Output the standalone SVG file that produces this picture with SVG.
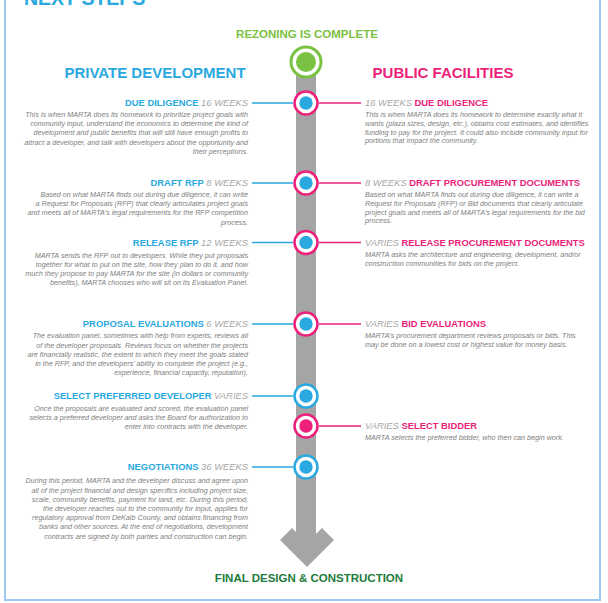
<svg xmlns="http://www.w3.org/2000/svg" width="608" height="603" viewBox="0 0 608 603">
<style>
text{font-family:"Liberation Sans",Arial,sans-serif}
.title{font-size:19.5px;font-weight:bold;fill:#29a9e0}
.col{font-size:15px;font-weight:bold}
.blue{fill:#29a9e0}
.pink{fill:#ec1f7a}
.hd{font-size:9.4px}
.hb{font-weight:bold}
.hw{font-style:italic;fill:#a6a6a6}
.body{font-size:7.2px;font-style:italic;fill:#808080}
.l{text-anchor:end}
.ring-p{fill:#fff;stroke:#ec1f7a;stroke-width:2.5}
.ring-b{fill:#fff;stroke:#29a9e0;stroke-width:2.5}
.dot-b{fill:#29a9e0}
.dot-p{fill:#ec1f7a}
.cl{stroke:#29a9e0;stroke-width:1.6}
.cr{stroke:#ec1f7a;stroke-width:1.6}
</style>
<rect x="5" y="-20" width="595" height="620" fill="#fff" stroke="#9cc7f2" stroke-width="2"/>
<text class="title" x="24" y="4.5">NEXT STEPS</text>
<text x="307" y="38" text-anchor="middle" style="font-size:11.5px;font-weight:bold;fill:#7bc143">REZONING IS COMPLETE</text>
<text class="col blue" x="155" y="77.5" text-anchor="middle">PRIVATE DEVELOPMENT</text>
<text class="col pink" x="443" y="77.5" text-anchor="middle">PUBLIC FACILITIES</text>

<g id="spine">
<rect x="296" y="62" width="20" height="490" fill="#a5a5a5"/>
<polygon points="307,567 280,540 292,528 307,543 322,528 334,540" fill="#a5a5a5"/>
</g>

<g id="connectors">
<line class="cl" x1="252" y1="103" x2="293" y2="103"/>
<line class="cr" x1="319" y1="103" x2="361" y2="103"/>
<line class="cl" x1="252" y1="183" x2="293" y2="183"/>
<line class="cr" x1="319" y1="183" x2="361" y2="183"/>
<line class="cl" x1="252" y1="242.5" x2="293" y2="242.5"/>
<line class="cr" x1="319" y1="242.5" x2="361" y2="242.5"/>
<line class="cl" x1="252" y1="324" x2="293" y2="324"/>
<line class="cr" x1="319" y1="324" x2="361" y2="324"/>
<line class="cl" x1="252" y1="396" x2="293" y2="396"/>
<line class="cr" x1="319" y1="426" x2="361" y2="426"/>
<line class="cl" x1="252" y1="467" x2="293" y2="467"/>
</g>

<g id="start">
<circle cx="306" cy="62" r="15" fill="#fff" stroke="#7bc143" stroke-width="3"/>
<circle cx="306" cy="62" r="10" fill="#7bc143"/>
</g>
<g id="node-due-diligence">
<circle class="ring-p" cx="306" cy="103" r="11.5"/><circle class="dot-b" cx="306" cy="103" r="6.7"/>
</g>
<g id="node-draft">
<circle class="ring-p" cx="306" cy="183" r="11.5"/><circle class="dot-b" cx="306" cy="183" r="6.7"/>
</g>
<g id="node-release">
<circle class="ring-p" cx="306" cy="242.5" r="11.5"/><circle class="dot-b" cx="306" cy="242.5" r="6.7"/>
</g>
<g id="node-evaluations">
<circle class="ring-p" cx="306" cy="324" r="11.5"/><circle class="dot-b" cx="306" cy="324" r="6.7"/>
</g>
<g id="node-select-developer">
<circle class="ring-b" cx="306" cy="396" r="11.5"/><circle class="dot-b" cx="306" cy="396" r="6.7"/>
</g>
<g id="node-select-bidder">
<circle class="ring-p" cx="306" cy="426" r="11.5"/><circle class="dot-p" cx="306" cy="426" r="6.7"/>
</g>
<g id="node-negotiations">
<circle class="ring-b" cx="306" cy="467" r="11.5"/><circle class="dot-b" cx="306" cy="467" r="6.7"/>
</g>

<g id="left-due-diligence">
<text class="hd l" x="248" y="106.4"><tspan class="hb blue">DUE DILIGENCE</tspan><tspan class="hw"> 16 WEEKS</tspan></text>
<text class="body l" x="248" y="117"><tspan x="248">This is when MARTA does its homework to prioritize project goals with</tspan><tspan x="248" dy="9.2">community input, understand the economics to determine the kind of</tspan><tspan x="248" dy="9.2">development and public benefits that will still have enough profits to</tspan><tspan x="248" dy="9.2">attract a developer, and talk with developers about the opportunity and</tspan><tspan x="248" dy="9.2">their perceptions.</tspan></text>
</g>
<g id="left-draft-rfp">
<text class="hd l" x="248" y="186.4"><tspan class="hb blue">DRAFT RFP</tspan><tspan class="hw"> 8 WEEKS</tspan></text>
<text class="body l" x="248" y="197"><tspan x="248">Based on what MARTA finds out during due diligence, it can write</tspan><tspan x="248" dy="9.2">a Request for Proposals (RFP) that clearly articulates project goals</tspan><tspan x="248" dy="9.2">and meets all of MARTA’s legal requirements for the RFP competition</tspan><tspan x="248" dy="9.2">process.</tspan></text>
</g>
<g id="left-release-rfp">
<text class="hd l" x="248" y="245.9"><tspan class="hb blue">RELEASE RFP</tspan><tspan class="hw"> 12 WEEKS</tspan></text>
<text class="body l" x="248" y="257.5"><tspan x="248">MARTA sends the RFP out to developers.  While they put proposals</tspan><tspan x="248" dy="9.2">together for what to put on the site, how they plan to do it, and how</tspan><tspan x="248" dy="9.2">much they propose to pay MARTA for the site (in dollars or community</tspan><tspan x="248" dy="9.2">benefits), MARTA chooses who will sit on its Evaluation Panel.</tspan></text>
</g>
<g id="left-proposal-evaluations">
<text class="hd l" x="248" y="327.4"><tspan class="hb blue">PROPOSAL EVALUATIONS</tspan><tspan class="hw"> 6 WEEKS</tspan></text>
<text class="body l" x="248" y="338.3"><tspan x="248">The evaluation panel, sometimes with help from experts, reviews all</tspan><tspan x="248" dy="9.2">of the developer proposals.  Reviews focus on whether the projects</tspan><tspan x="248" dy="9.2">are financially realistic, the extent to which they meet the goals stated</tspan><tspan x="248" dy="9.2">in the RFP, and the developers’ ability to complete the project (e.g.,</tspan><tspan x="248" dy="9.2">experience, financial capacity, reputation).</tspan></text>
</g>
<g id="left-select-developer">
<text class="hd l" x="248" y="399.4"><tspan class="hb blue">SELECT PREFERRED DEVELOPER</tspan><tspan class="hw"> VARIES</tspan></text>
<text class="body l" x="248" y="410.5"><tspan x="248">Once the proposals are evaluated and scored, the evaluation panel</tspan><tspan x="248" dy="9.2">selects a preferred developer and asks the Board for authorization to</tspan><tspan x="248" dy="9.2">enter into contracts with the developer.</tspan></text>
</g>
<g id="left-negotiations">
<text class="hd l" x="248" y="470.4"><tspan class="hb blue">NEGOTIATIONS</tspan><tspan class="hw"> 36 WEEKS</tspan></text>
<text class="body l" x="248" y="483.3"><tspan x="248">During this period, MARTA and the developer discuss and agree upon</tspan><tspan x="248" dy="9.2">all of the project financial and design specifics including project size,</tspan><tspan x="248" dy="9.2">scale, community benefits, payment for land, etc.  During this period,</tspan><tspan x="248" dy="9.2">the developer reaches out to the community for input, applies for</tspan><tspan x="248" dy="9.2">regulatory approval from DeKalb County, and obtains financing from</tspan><tspan x="248" dy="9.2">banks and other sources.  At the end of negotiations, development</tspan><tspan x="248" dy="9.2">contracts are signed by both parties and construction can begin.</tspan></text>
</g>

<g id="right-due-diligence">
<text class="hd" x="365" y="106.4"><tspan class="hw">16 WEEKS </tspan><tspan class="hb pink">DUE DILIGENCE</tspan></text>
<text class="body" x="365" y="117"><tspan x="365">This is when MARTA does its homework to determine exactly what it</tspan><tspan x="365" dy="8.8">wants (plaza sizes, design, etc.), obtains cost estimates, and identifies</tspan><tspan x="365" dy="8.8">funding to pay for the project.  It could also include community input for</tspan><tspan x="365" dy="8.8">portions that impact the community.</tspan></text>
</g>
<g id="right-draft-procurement">
<text class="hd" x="365" y="186.4"><tspan class="hw">8 WEEKS </tspan><tspan class="hb pink">DRAFT PROCUREMENT DOCUMENTS</tspan></text>
<text class="body" x="365" y="197"><tspan x="365">Based on what MARTA finds out during due diligence, it can write a</tspan><tspan x="365" dy="8.8">Request for Proposals (RFP) or Bid documents that clearly articulate</tspan><tspan x="365" dy="8.8">project goals and meets all of MARTA’s legal requirements for the bid</tspan><tspan x="365" dy="8.8">process.</tspan></text>
</g>
<g id="right-release-procurement">
<text class="hd" x="365" y="245.9"><tspan class="hw">VARIES </tspan><tspan class="hb pink">RELEASE PROCUREMENT DOCUMENTS</tspan></text>
<text class="body" x="365" y="257"><tspan x="365">MARTA asks the architecture and engineering, development, and/or</tspan><tspan x="365" dy="8.8">construction communities for bids on the project.</tspan></text>
</g>
<g id="right-bid-evaluations">
<text class="hd" x="365" y="327.4"><tspan class="hw">VARIES </tspan><tspan class="hb pink">BID EVALUATIONS</tspan></text>
<text class="body" x="365" y="338"><tspan x="365">MARTA’s procurement department reviews proposals or bids.  This</tspan><tspan x="365" dy="8.8">may be done on a lowest cost or highest value for money basis.</tspan></text>
</g>
<g id="right-select-bidder">
<text class="hd" x="365" y="429.4"><tspan class="hw">VARIES </tspan><tspan class="hb pink">SELECT BIDDER</tspan></text>
<text class="body" x="365" y="440"><tspan x="365">MARTA selects the preferred bidder, who then can begin work.</tspan></text>
</g>

<text x="309" y="582" text-anchor="middle" style="font-size:11.5px;font-weight:bold;fill:#1e7b3c">FINAL DESIGN &amp; CONSTRUCTION</text>
</svg>
